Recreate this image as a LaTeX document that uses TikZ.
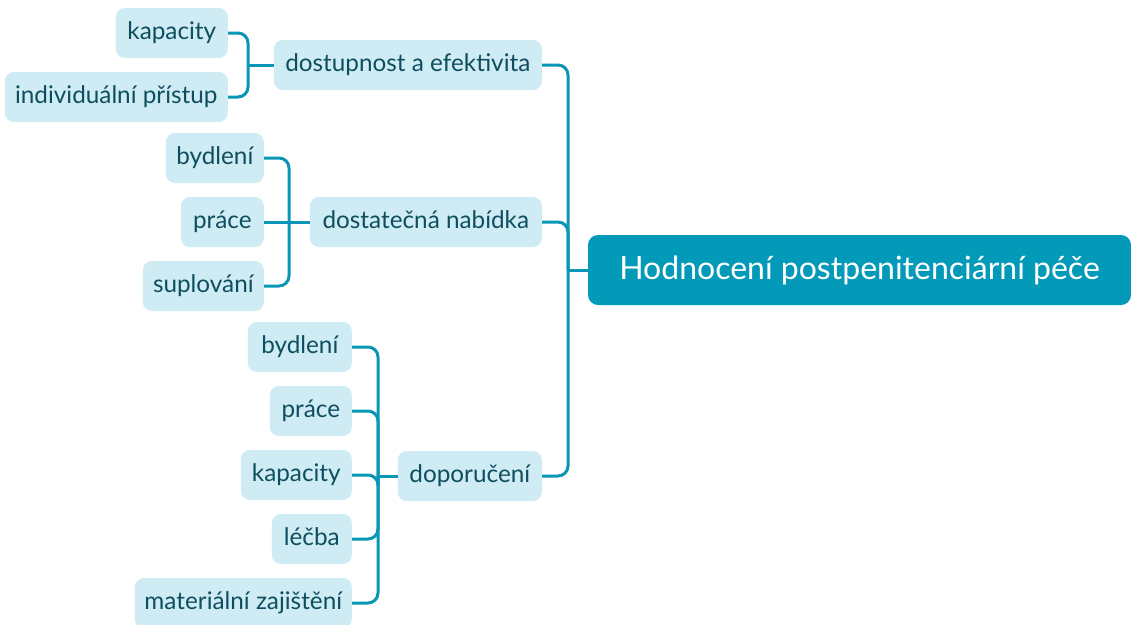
\documentclass[tikz,border=0pt]{standalone}
\usepackage{fontspec}
\setmainfont{Lato}
\definecolor{rootfill}{RGB}{3,153,184}
\definecolor{leaffill}{RGB}{207,235,243}
\definecolor{leaftext}{RGB}{14,79,95}
\definecolor{linec}{RGB}{10,150,182}
\tikzset{
  leaf/.style={fill=leaffill, text=leaftext, rounded corners=9pt, minimum height=50pt,
    inner sep=0pt, text height=16pt, text depth=4pt, font=\fontsize{24.3}{28}\selectfont, anchor=east},
  rootbox/.style={fill=rootfill, text=white, rounded corners=10pt, minimum height=70pt,
    minimum width=543pt, inner sep=0pt, text height=23pt, text depth=5pt, font=\fontsize{32}{37}\selectfont},
  conn/.style={draw=linec, line width=3pt, rounded corners=10pt},
}
\begin{document}
\begin{tikzpicture}[x=1pt,y=-1pt]
\useasboundingbox (0,0) rectangle (1131,624);
% root
\node[rootbox] (root) at (859.5,270) {Hodnocení postpenitenciární péče};
% level 1
\node[leaf, minimum width=268pt] (a) at (542,65) {dostupnost a efektivita};
\node[leaf, minimum width=232pt] (b) at (542,222) {dostatečná nabídka};
\node[leaf, minimum width=144pt] (c) at (542,476) {doporučení};
% level 2 of a
\node[leaf, minimum width=112pt] (a1) at (228,33) {kapacity};
\node[leaf, minimum width=223pt] (a2) at (228,97) {individuální přístup};
% level 2 of b
\node[leaf, minimum width=98pt] (b1) at (264,158) {bydlení};
\node[leaf, minimum width=83pt] (b2) at (264,222) {práce};
\node[leaf, minimum width=121pt] (b3) at (264,286) {suplování};
% level 2 of c
\node[leaf, minimum width=104pt] (c1) at (352,347) {bydlení};
\node[leaf, minimum width=82pt] (c2) at (352,411) {práce};
\node[leaf, minimum width=111pt] (c3) at (352,475) {kapacity};
\node[leaf, minimum width=80pt] (c4) at (352,539) {léčba};
\node[leaf, minimum width=217pt] (c5) at (352,603) {materiální zajištění};
% junctions
\coordinate (rj) at (568,270);
\coordinate (ja) at (248,65);
\coordinate (jb) at (289,222);
\coordinate (jc) at (378,476);
% connectors root
\draw[conn] (a.east) -| (rj);
\draw[conn] (b.east) -| (rj);
\draw[conn] (c.east) -| (rj);
\draw[conn] (rj) -- (root.west);
% connectors a
\draw[conn] (a1.east) -| (ja);
\draw[conn] (a2.east) -| (ja);
\draw[conn] (ja) -- (a.west);
% connectors b
\draw[conn] (b1.east) -| (jb);
\draw[conn] (b2.east) -- (jb);
\draw[conn] (b3.east) -| (jb);
\draw[conn] (jb) -- (b.west);
% connectors c
\draw[conn] (c1.east) -| (jc);
\draw[conn] (c2.east) -| (jc);
\draw[conn] (c3.east) -| (jc);
\draw[conn] (c4.east) -| (jc);
\draw[conn] (c5.east) -| (jc);
\draw[conn] (jc) -- (c.west);
\end{tikzpicture}
\end{document}
